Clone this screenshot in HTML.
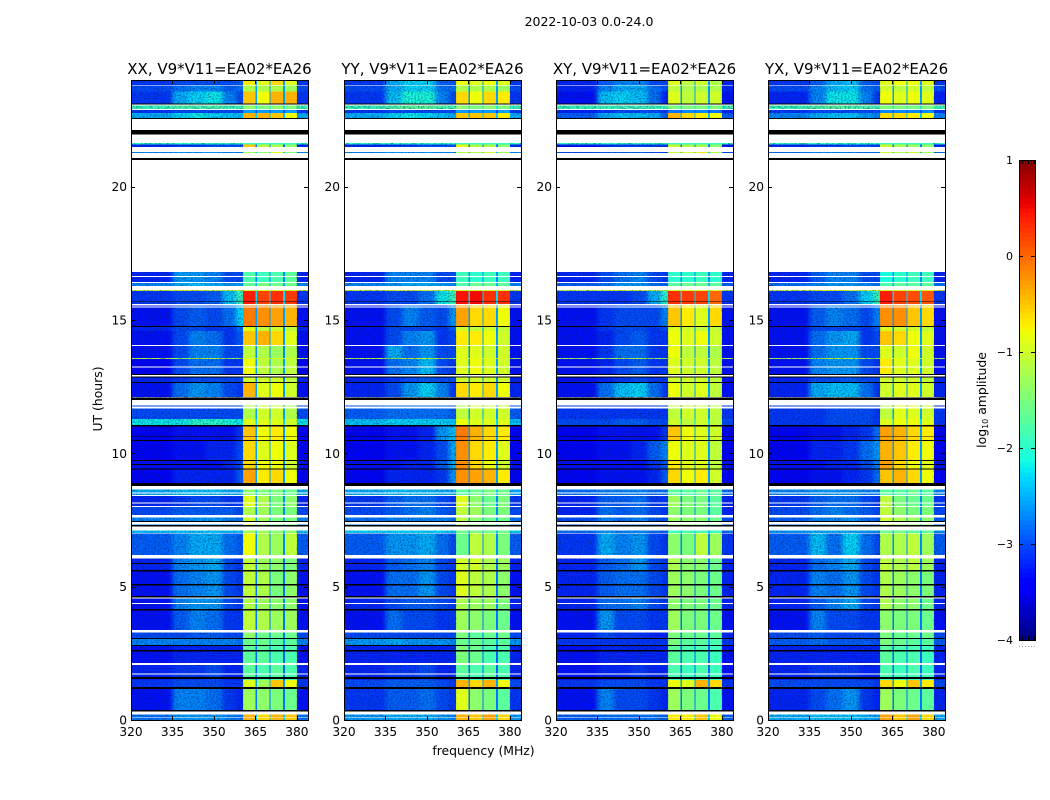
<!DOCTYPE html>
<html>
<head>
<meta charset="utf-8">
<title>2022-10-03 0.0-24.0</title>
<style>
html,body{margin:0;padding:0;background:#fff;width:1050px;height:800px;overflow:hidden}
svg{display:block}
text{font-family:"DejaVu Sans","Liberation Sans",sans-serif;fill:#000}
</style>
</head>
<body>
<svg id="figure" xmlns="http://www.w3.org/2000/svg" width="1050" height="800" viewBox="0 0 1050 800">
<defs id="defs">
<filter id="grain" x="0" y="0" width="100%" height="100%" color-interpolation-filters="sRGB">
<feTurbulence type="fractalNoise" baseFrequency="0.6" numOctaves="2" seed="4"/>
<feColorMatrix type="matrix" values="0 0 0 0 0  0 0 0 0 0.1  0 0 0 0 0.35  1.4 0 0 0 -0.58"/>
</filter>
<filter id="softBlur" x="-5%" y="0" width="110%" height="100%" color-interpolation-filters="sRGB">
<feGaussianBlur stdDeviation="2.5 0"/>
</filter>
</defs>
<text x="589" y="26" font-size="12.5" text-anchor="middle">2022-10-03 0.0-24.0</text>
<text x="483.5" y="755" font-size="12.4" text-anchor="middle">frequency (MHz)</text>
<text transform="translate(102,399) rotate(-90)" font-size="12.4" text-anchor="middle">UT (hours)</text>
<text transform="translate(986,400) rotate(-90)" font-size="12.4" text-anchor="middle">log<tspan font-size="8" dy="2">10</tspan><tspan dy="-2"> amplitude</tspan></text>
<g id="panels"></g>
<g id="colorbar"></g>
</svg>
<script>
// ---- chart data (hours, MHz, log10 amplitude) ----
const panelTitles = ["XX, V9*V11=EA02*EA26","YY, V9*V11=EA02*EA26","XY, V9*V11=EA02*EA26","YX, V9*V11=EA02*EA26"];
const freqTicks = [320,335,350,365,380];
const hourTicks = [0,5,10,15,20];
const colorTicks = [1,0,-1,-2,-3,-4];
const bandFrom = [320,335,341,347,353,358,360.5,365,365.5,370,370.5,375,375.6,380];
const bandTo = [335,341,347,353,358,360.5,365,365.5,370,370.5,375,375.6,380,384];
const bandColumn = [0,1,2,3,4,5,6,-1,7,-1,8,-1,9,0];
const rowStart = [23.79,23.57,23.1,22.875,22.76,22.575,21.59,21.49,21.25,16.39,16.125,16.09,15.6,14.775,14.59,14.06,13.575,13.54,12.975,12.64,12.11,11.29,11.06,10.46,9.75,9.41,8.87,8.4,7.99,7.69,7.275,6.99,6.19,5.625,4.61,4.125,3.3,3.04,2.775,2.14,1.5,1.24,0.375,0];
const rowEnd = [24,23.79,23.57,23.1,22.875,22.76,21.64,21.59,21.31,16.8,16.39,16.125,16.09,15.6,14.775,14.59,14.06,13.575,13.54,12.975,12.64,11.79,11.29,11.06,10.46,9.75,9.41,8.66,8.4,7.99,7.59,7.1,6.99,6.06,5.625,4.61,4.125,3.3,3.04,2.775,2.14,1.5,1.24,0.225];
const notchValues = [-2.6,-2.6,-2.6,-2.2,-3,-2.4,-2,-2.8,-2.4,-2.7,-2.5,-1.2,-2.3,-2.6,-2.7,-2.6,-2.7,-1.2,-2.6,-2.7,-2.6,-2.6,-2.3,-2.6,-2.6,-2.7,-2.6,-2.4,-2.7,-2.7,-2.5,-2.4,-2.7,-2.8,-2.8,-2.7,-2.8,-2.8,-2.6,-2.9,-2.9,-2.6,-2.8,-2.4];
const xxValues = [
[-3.1,-3,-3,-3,-3,-2.9,-0.7,-0.9,-0.6,-0.9],
[-3,-2.8,-2.7,-2.7,-2.9,-2.8,-1.2,-1.2,-1.2,-1.3],
[-3.1,-2.5,-2.3,-2.2,-2.7,-3,-0.5,-0.8,-0.4,-0.4],
[-1.9,-1.8,-1.8,-1.8,-1.9,-1.9,-1.4,-1.5,-1.4,-1.5],
[-3.1,-3,-3,-3,-3,-3,-2.6,-2.6,-2.6,-2.6],
[-2.5,-2.3,-2.2,-2.3,-2.4,-2.4,-0.4,-0.4,-0.5,-0.8],
[-2,-2,-2,-2,-2,-2,-1.9,-1.9,-1.9,-1.9],
[-3.2,-3.1,-3.1,-3,-3,-3,-0.5,-1.1,-1.2,-1.4],
[-2.7,-2.6,-2.6,-2.6,-2.7,-2.7,-1.3,-1.4,-0.9,-1.5],
[-3.2,-2.6,-2.6,-2.7,-3,-3,-1.8,-1.9,-1.8,-1.7],
[-2.7,-2.5,-2.4,-2.5,-2.6,-2.6,-1.7,-1.5,-1.6,-1.6],
[-1,-0.9,-0.9,-1,-1.1,-1,-1,-1,-1,-1],
[-3.1,-3,-3,-2.9,-2.4,-1.9,0.4,0.2,0.3,0.25],
[-3.3,-3,-2.9,-3,-2.8,-2.3,-0.1,-0.2,-0.3,-0.4],
[-3.2,-3,-3,-3.1,-3.1,-2.8,-0.9,-1.1,-1,-1.1],
[-3.3,-3,-2.7,-2.8,-3.1,-2.9,-0.5,-0.4,-0.6,-0.9],
[-3.3,-3,-2.7,-2.7,-3,-3,-1.1,-1.2,-1.3,-1.2],
[-1.2,-1.3,-1.1,-1.1,-1.3,-1.3,-1,-1,-1,-1],
[-3.4,-3,-2.8,-2.8,-3.1,-3.1,-0.8,-1.1,-1.2,-1.1],
[-3.2,-3.1,-3,-3,-3,-3,-1,-1,-1,-1.1],
[-3.3,-2.8,-2.6,-2.7,-3,-3.1,-0.4,-0.9,-0.8,-1],
[-3,-3,-3,-3,-3,-3,-1.2,-1,-1,-1.2],
[-2.2,-2.2,-2,-2,-2.1,-2.2,-0.9,-0.9,-0.9,-1],
[-3.4,-3.3,-3.3,-3.3,-3.3,-3.1,-0.5,-0.8,-0.7,-0.8],
[-3.4,-3.3,-3.3,-3.2,-3.2,-3,-0.6,-0.9,-0.8,-0.9],
[-3.3,-3.3,-3.3,-3.3,-3.2,-3,-0.6,-0.8,-0.8,-1],
[-3.4,-3.2,-3.2,-3.2,-3.2,-2.9,-0.3,-0.7,-0.6,-0.8],
[-2.5,-2.4,-2.4,-2.4,-2.5,-2.5,-1.4,-1.5,-1.5,-1.6],
[-3.2,-3.1,-3,-3,-3.1,-3.1,-0.9,-1.2,-1.5,-1.4],
[-3,-2.9,-2.9,-2.9,-2.9,-3,-1.2,-1.3,-1.5,-1.5],
[-2.7,-2.7,-2.6,-2.6,-2.7,-2.8,-1,-1.3,-1.5,-1.5],
[-2.4,-2.4,-2.4,-2.4,-2.4,-2.4,-1.3,-1.3,-1.4,-1.4],
[-2.9,-2.7,-2.5,-2.5,-2.8,-2.9,-0.8,-1.2,-1.3,-1.1],
[-3.2,-2.7,-2.6,-2.5,-3,-3.1,-1.1,-1.3,-1.4,-1.5],
[-3.3,-2.8,-2.7,-2.6,-3,-3.1,-1.1,-1.2,-1.5,-1.4],
[-3.3,-2.7,-2.6,-2.6,-3,-3.1,-1.2,-1.3,-1.4,-1.4],
[-3.3,-2.9,-2.7,-2.8,-3.1,-3.1,-1.1,-1.2,-1.3,-1.3],
[-3,-3,-2.9,-2.9,-3,-3,-1.4,-1.6,-1.6,-1.6],
[-2.7,-2.7,-2.7,-2.7,-2.7,-2.8,-1.6,-1.6,-1.7,-1.7],
[-3.3,-3.2,-3.2,-3.2,-3.2,-3.2,-1.7,-1.7,-1.8,-1.8],
[-3.2,-3.1,-3.1,-3,-3.2,-3.2,-1.7,-1.8,-1.7,-1.8],
[-3.1,-3,-3,-3,-3.1,-3.1,-0.9,-1.3,-0.5,-0.8],
[-3.3,-2.7,-2.7,-2.8,-3.1,-3.2,-1.3,-1.4,-1.5,-1.6],
[-2.8,-2.6,-2.6,-2.6,-2.7,-2.8,-0.4,-0.6,-0.4,-0.5]
];
const yyValues = [
[-3.1,-2.5,-2.3,-2.3,-2.9,-2.9,-0.8,-0.9,-0.8,-0.9],
[-3,-2.5,-2.3,-2.3,-2.8,-2.8,-1.2,-1.2,-1.2,-1.3],
[-3.1,-2.4,-2.1,-2.1,-2.7,-3,-0.6,-0.8,-0.6,-0.7],
[-1.9,-1.8,-1.7,-1.7,-1.8,-1.9,-1.4,-1.5,-1.4,-1.5],
[-3.1,-3,-3,-3,-3,-3,-2.6,-2.6,-2.6,-2.6],
[-2.5,-2.3,-2.2,-2.3,-2.4,-2.5,-0.5,-0.5,-0.5,-0.7],
[-2,-2,-2,-2,-2,-2,-1.9,-1.9,-1.9,-1.9],
[-3.2,-3.1,-3.1,-3,-3,-3,-0.8,-1.2,-1.2,-1.4],
[-2.7,-2.6,-2.6,-2.6,-2.7,-2.7,-1.1,-1.2,-1,-1.3],
[-3.2,-2.7,-2.7,-2.7,-3,-3,-1.9,-2,-1.9,-1.9],
[-2.7,-2.6,-2.5,-2.5,-2.6,-2.7,-1.8,-1.6,-1.6,-1.7],
[-1,-0.9,-0.9,-1,-1.1,-1,-1,-1,-1,-1],
[-3.1,-3,-3,-2.8,-2.2,-1.9,0.45,0.5,0.3,0.3],
[-3.3,-3,-2.7,-2.9,-3,-2.6,-0.3,-0.6,-0.6,-0.8],
[-3.3,-3,-3,-3,-3.1,-2.9,-1,-1.1,-1,-1.1],
[-3.3,-3,-2.7,-2.6,-3.1,-3,-0.7,-0.7,-0.8,-1],
[-3.3,-2.5,-2.8,-2.6,-3,-3,-0.9,-0.9,-1,-1],
[-1.2,-1.3,-1,-0.9,-1.3,-1.3,-0.9,-0.9,-0.9,-0.9],
[-3.3,-2.8,-2.7,-2.4,-3,-3.1,-0.9,-0.8,-0.9,-1],
[-3.2,-3.1,-3,-2.9,-3,-3,-1,-1,-1,-1],
[-3.2,-3,-2.6,-2.3,-2.7,-3.1,-0.6,-0.7,-0.6,-0.8],
[-2.9,-2.8,-2.8,-2.8,-2.8,-2.9,-1.1,-1,-1,-1],
[-2.4,-2.3,-2.3,-2.3,-2.3,-2.4,-0.8,-0.9,-0.9,-0.9],
[-3.4,-3.3,-3.3,-3.2,-2.6,-2.4,-0.1,-0.4,-0.6,-0.7],
[-3.4,-3.3,-3.3,-3.2,-3,-2.5,-0.2,-0.6,-0.7,-0.9],
[-3.3,-3.3,-3.2,-3.2,-2.9,-2.5,-0.2,-0.6,-0.8,-1],
[-3.4,-3.2,-3.2,-3.2,-3.1,-2.6,-0.2,-0.3,-0.4,-0.7],
[-2.5,-2.4,-2.4,-2.4,-2.5,-2.5,-1.7,-1.6,-1.5,-1.6],
[-3.1,-2.9,-2.8,-2.8,-3,-3.1,-0.9,-1.4,-1.6,-1.5],
[-3,-2.9,-2.8,-2.7,-2.9,-3,-1.1,-1.3,-1.5,-1.5],
[-2.8,-2.7,-2.7,-2.7,-2.7,-2.8,-1.1,-1.4,-1.6,-1.6],
[-2.3,-2.3,-2.3,-2.3,-2.3,-2.4,-1.6,-1.5,-1.6,-1.6],
[-2.9,-2.6,-2.6,-2.5,-2.8,-3,-1.6,-1.1,-1.2,-1.5],
[-3.2,-2.9,-2.8,-2.7,-3,-3.1,-1,-1,-1.2,-1.3],
[-3.3,-2.8,-2.8,-2.6,-3,-3.1,-0.9,-1.1,-1.2,-1.4],
[-3.2,-3,-2.9,-2.9,-3,-3.1,-1.2,-1.3,-1.3,-1.5],
[-3.3,-2.8,-3,-3,-3.1,-3.1,-1.3,-1.4,-1.5,-1.6],
[-3,-3,-3,-3,-3,-3,-1.5,-1.7,-1.6,-1.6],
[-2.6,-2.5,-2.6,-2.6,-2.6,-2.7,-1.6,-1.6,-1.7,-1.7],
[-3.2,-3.2,-3.2,-3.2,-3.2,-3.2,-1.5,-1.6,-1.8,-1.8],
[-3.2,-3.1,-3.1,-3,-3.2,-3.2,-1.7,-1.8,-1.7,-1.8],
[-3,-2.9,-2.9,-2.9,-3,-3.1,-0.4,-0.6,-0.4,-0.8],
[-3.1,-2.9,-2.9,-2.8,-3,-3.1,-0.9,-1.4,-1.5,-1.7],
[-2.6,-2.5,-2.5,-2.5,-2.6,-2.7,-0.4,-0.5,-0.3,-0.6]
];
const xyValues = [
[-3.2,-2.9,-2.7,-2.7,-3,-3,-0.9,-1.1,-1,-1.2],
[-3.2,-2.7,-2.5,-2.5,-2.8,-3,-1.1,-1.2,-1.2,-1.2],
[-3.3,-2.4,-2.3,-2.4,-2.8,-3.2,-0.9,-1.1,-1,-1],
[-1.9,-1.9,-1.9,-1.9,-1.9,-1.9,-1.5,-1.5,-1.5,-1.5],
[-3.2,-3.1,-3,-3,-3,-3.1,-2.8,-2.7,-2.7,-2.8],
[-2.9,-2.5,-2.4,-2.4,-2.5,-2.9,-0.4,-0.6,-0.7,-0.8],
[-2,-2,-2,-2,-2,-2,-1.9,-1.9,-1.9,-1.9],
[-3.3,-3.2,-3.1,-3.1,-3.1,-3.1,-1,-1.2,-1.2,-1.4],
[-3,-2.9,-2.9,-2.9,-3,-3,-1,-1,-0.7,-1.2],
[-3.2,-3,-2.8,-2.7,-3,-3.1,-2,-2,-1.9,-2],
[-2.9,-2.8,-2.6,-2.6,-2.8,-2.9,-1.7,-1.6,-1.6,-1.7],
[-1.1,-1,-0.9,-1,-1.1,-1.1,-1,-1,-1,-1],
[-3.1,-3.1,-3.1,-3,-2.5,-2,0.3,0.25,0.2,0],
[-3.3,-3.1,-3,-3,-3,-2.7,-0.5,-0.7,-0.9,-0.6],
[-3.3,-3.1,-3,-3,-3.1,-3,-0.9,-1,-1.1,-1.1],
[-3.3,-3.2,-3,-2.9,-3.1,-3.1,-0.8,-0.9,-0.8,-1],
[-3.3,-3.1,-2.8,-2.8,-3.1,-3.1,-0.8,-1.1,-1.1,-1.2],
[-1.3,-1.3,-1.1,-1.1,-1.3,-1.3,-1,-1,-1,-1.1],
[-3.3,-3.2,-3,-2.9,-3.1,-3.1,-0.9,-1,-1,-1.1],
[-3.3,-3.2,-3.1,-3,-3.1,-3.1,-1,-1,-1,-1.1],
[-3.3,-2.8,-2.4,-2.3,-2.8,-3.1,-0.8,-1,-0.9,-1.1],
[-3.1,-3.1,-3.1,-3.1,-3.1,-3.1,-1.1,-1,-1,-1.1],
[-3,-3,-2.9,-2.9,-3,-3,-1,-1.1,-1,-1.1],
[-3.4,-3.3,-3.3,-3.3,-3.3,-3.1,-0.5,-0.8,-0.9,-1],
[-3.4,-3.3,-3.3,-3.2,-2.9,-2.7,-0.8,-0.9,-0.9,-1.1],
[-3.3,-3.3,-3.3,-3.3,-3.1,-2.9,-0.7,-0.9,-0.9,-1.1],
[-3.4,-3.3,-3.3,-3.3,-3.2,-2.9,-0.6,-0.8,-0.7,-1],
[-2.8,-2.7,-2.7,-2.7,-2.8,-2.8,-1.7,-1.7,-1.6,-1.7],
[-3.2,-2.9,-2.9,-2.8,-3.1,-3.1,-1.3,-1.5,-1.5,-1.7],
[-3.2,-2.8,-2.9,-2.8,-3,-3.1,-1.4,-1.5,-1.5,-1.7],
[-3,-2.7,-2.8,-2.7,-2.9,-3,-1.3,-1.4,-1.4,-1.6],
[-2.8,-2.6,-2.7,-2.7,-2.8,-2.9,-1.9,-1.8,-1.8,-1.9],
[-3.1,-2.5,-2.7,-2.6,-3,-3.1,-1.4,-1.5,-1.1,-1.3],
[-3.2,-2.9,-2.8,-2.6,-3,-3.1,-1.2,-1.4,-1.4,-1.6],
[-3.2,-2.9,-2.8,-2.8,-3,-3.1,-1.3,-1.4,-1.5,-1.6],
[-3.2,-2.8,-2.8,-2.7,-3,-3.1,-1.4,-1.5,-1.5,-1.6],
[-3.3,-2.6,-3,-3,-3.1,-3.1,-1.3,-1.5,-1.5,-1.6],
[-3.2,-3,-3.1,-3.1,-3.2,-3.2,-1.5,-1.6,-1.6,-1.7],
[-3.1,-3.1,-3.1,-3.1,-3.1,-3.1,-1.5,-1.7,-1.7,-1.8],
[-3.3,-3.2,-3.2,-3.2,-3.2,-3.2,-1.7,-1.8,-1.8,-1.9],
[-3.3,-3.2,-3.2,-3.1,-3.2,-3.2,-1.8,-1.9,-1.8,-1.9],
[-3.1,-3,-3,-3,-3.1,-3.1,-0.8,-0.9,-0.4,-0.6],
[-3.3,-2.7,-3,-3,-3.1,-3.2,-1.3,-1.5,-1.6,-1.8],
[-2.9,-2.8,-2.8,-2.8,-2.8,-2.9,-0.7,-0.7,-0.5,-0.8]
];
const yxValues = [
[-3.1,-2.9,-2.5,-2.4,-2.9,-3,-0.9,-0.8,-0.8,-0.9],
[-3,-2.7,-2.4,-2.3,-2.8,-2.9,-1,-1.1,-1,-1.1],
[-3.2,-2.7,-2.2,-2.2,-2.7,-3.1,-0.8,-0.9,-0.8,-0.9],
[-1.9,-1.8,-1.7,-1.8,-1.8,-1.9,-1.5,-1.5,-1.5,-1.5],
[-3.1,-3,-3,-3,-3,-3,-2.7,-2.7,-2.7,-2.7],
[-2.7,-2.5,-2.4,-2.4,-2.6,-2.7,-0.6,-0.6,-0.7,-0.8],
[-2,-2,-2,-2,-2,-2,-1.9,-1.9,-1.9,-1.9],
[-3.2,-3.1,-3.1,-3,-3,-3.1,-1,-1.2,-1.3,-1.4],
[-2.8,-2.7,-2.7,-2.7,-2.8,-2.8,-1,-1.2,-1,-1.3],
[-3.2,-2.9,-2.7,-2.7,-3,-3,-2.1,-2,-1.9,-1.9],
[-2.8,-2.7,-2.6,-2.6,-2.7,-2.8,-1.8,-1.7,-1.7,-1.7],
[-1,-0.9,-0.9,-1,-1.1,-1,-1,-1,-1,-1],
[-3.1,-3,-3,-2.8,-2.3,-1.9,0.4,0.2,0.15,0.1],
[-3.3,-2.9,-2.7,-2.8,-3,-2.7,-0.2,-0.2,-0.5,-0.6],
[-3.3,-3,-3,-3,-3.1,-2.9,-0.9,-1,-1,-1.1],
[-3.3,-2.8,-2.6,-2.5,-3.1,-3,-0.5,-0.6,-0.8,-0.9],
[-3.3,-2.8,-2.6,-2.6,-3,-3,-0.9,-1,-0.8,-1],
[-1.3,-1.3,-1,-1,-1.3,-1.3,-0.9,-0.9,-0.9,-1],
[-3.3,-2.7,-2.6,-2.6,-3,-3.1,-0.7,-0.9,-0.9,-1],
[-3.2,-3,-3,-2.9,-3,-3,-1,-1,-1,-1.1],
[-3.2,-2.5,-2.4,-2.4,-2.8,-3.1,-1,-0.9,-0.9,-1],
[-3.1,-3.1,-3,-3,-3,-3.1,-1.1,-0.9,-0.9,-1],
[-3.1,-3.1,-3,-3,-3,-3.1,-0.9,-0.8,-0.8,-0.9],
[-3.4,-3.3,-3.3,-3.2,-3.1,-2.8,-0.3,-0.4,-0.6,-0.7],
[-3.4,-3.2,-3.2,-3.1,-2.8,-2.6,-0.4,-0.5,-0.7,-0.8],
[-3.3,-3.3,-3.2,-3.2,-3,-2.7,-0.3,-0.6,-0.8,-0.9],
[-3.4,-3.3,-3.3,-3.2,-3.1,-2.8,-0.5,-0.4,-0.6,-0.8],
[-2.7,-2.6,-2.6,-2.6,-2.7,-2.7,-1.7,-1.7,-1.6,-1.7],
[-3.1,-2.9,-2.8,-2.8,-3,-3.1,-1.1,-1.5,-1.6,-1.6],
[-3,-2.8,-2.7,-2.8,-2.9,-3,-1.1,-1.4,-1.5,-1.5],
[-2.9,-2.7,-2.7,-2.6,-2.8,-2.9,-1,-1.2,-1.3,-1.4],
[-2.6,-2.5,-2.5,-2.5,-2.6,-2.6,-1.6,-1.6,-1.7,-1.7],
[-2.9,-2.4,-2.8,-2.3,-2.8,-3,-1.2,-1.2,-1.1,-1.3],
[-3.2,-2.8,-2.7,-2.5,-3,-3.1,-1.1,-1.2,-1.1,-1.3],
[-3.2,-2.7,-2.8,-2.6,-3,-3.1,-1.2,-1.3,-1.4,-1.5],
[-3.2,-2.9,-2.7,-2.5,-3,-3.1,-1.2,-1.4,-1.4,-1.6],
[-3.3,-2.7,-3,-3,-3.1,-3.1,-1.4,-1.5,-1.5,-1.6],
[-3,-2.9,-3,-3,-3,-3,-1.5,-1.6,-1.6,-1.6],
[-2.9,-2.8,-2.9,-2.9,-2.9,-3,-1.5,-1.6,-1.7,-1.7],
[-3.2,-3.2,-3.2,-3.2,-3.2,-3.2,-1.7,-1.8,-1.8,-1.9],
[-3.2,-3.1,-3.1,-3.1,-3.2,-3.2,-1.8,-1.9,-1.8,-1.9],
[-3,-3,-3,-3,-3,-3.1,-0.6,-0.8,-0.5,-0.7],
[-3.2,-3,-2.8,-2.6,-3.1,-3.2,-1.3,-1.5,-1.6,-1.7],
[-2.5,-2.4,-2.4,-2.4,-2.5,-2.6,-0.3,-0.5,-0.3,-0.6]
];
const whiteStart = [23.79,23.04,22.875,21.64,21.3,16.8,16.61,16.39,16.13,15.55,15.46,14.03,13.21,12.88,11.79,11.69,8.65,8.49,8.4,8.11,7.98,7.59,7.38,7.34,7.1,6.99,6.06,4.56,4.35,3.29,2.07,1.71,0.21,0.1];
const whiteEnd = [23.82,23.08,22.91,22.53,21.49,21.26,16.65,16.43,16.28,15.6,15.5,14.06,13.25,12.93,12,11.75,8.78,8.53,8.44,8.15,8.03,7.69,7.43,7.38,7.25,7.02,6.19,4.6,4.39,3.38,2.13,1.75,0.31,0.12];
const blackStart = [23.09,22.53,21.95,21,15.69,14.74,12.93,12.84,12.64,12,11.01,10.61,10.46,9.71,9.56,9.4,8.78,7.43,7.25,5.85,5.56,5.04,4.6,4.11,3.04,2.78,2.56,1.53,1.16,0.31];
const blackEnd = [23.12,22.58,22.13,21.08,15.72,14.78,12.97,12.88,12.68,12.1,11.07,10.64,10.5,9.75,9.6,9.44,8.88,7.46,7.31,5.89,5.63,5.1,4.65,4.17,3.08,2.81,2.63,1.62,1.24,0.38];

// ---- layout ----
const SVGNS = "http://www.w3.org/2000/svg";
const panelValues = [xxValues,yyValues,xyValues,yxValues];
const panelLefts = [131,344,556,768];
const plotWidth = 177, plotTop = 80, plotBottom = 720;
const freqMin = 320, freqMax = 384, hourMin = 0, hourMax = 24;
const bandLow = 360.5, bandHigh = 380;
const barLeft = 1019, barWidth = 16, barTop = 160, barBottom = 640, logMin = -4, logMax = 1;

function xScale(left, f){ return left + (f - freqMin) / (freqMax - freqMin) * plotWidth; }
function yScale(h){ return plotBottom - (h - hourMin) / (hourMax - hourMin) * (plotBottom - plotTop); }
function barScale(v){ return barBottom - (v - logMin) / (logMax - logMin) * (barBottom - barTop); }
function ramp(t, pts){
  for (let i = 1; i < pts.length; i++) {
    if (t <= pts[i][0]) {
      const a = pts[i-1], b = pts[i];
      return a[1] + (b[1]-a[1]) * (t-a[0]) / (b[0]-a[0]);
    }
  }
  return pts[pts.length-1][1];
}
function jet(v){
  const t = Math.max(0, Math.min(1, (v - logMin) / (logMax - logMin)));
  const r = ramp(t, [[0,0],[0.35,0],[0.66,1],[0.89,1],[1,0.5]]);
  const g = ramp(t, [[0,0],[0.125,0],[0.375,1],[0.64,1],[0.91,0],[1,0]]);
  const b = ramp(t, [[0,0.5],[0.11,1],[0.34,1],[0.65,0],[1,0]]);
  return "rgb(" + Math.round(r*255) + "," + Math.round(g*255) + "," + Math.round(b*255) + ")";
}
function shape(parent, tag, attrs){
  const el = document.createElementNS(SVGNS, tag);
  for (const k in attrs) el.setAttribute(k, attrs[k]);
  parent.appendChild(el);
  return el;
}
const panelsRoot = document.getElementById("panels");
const defsRoot = document.getElementById("defs");

panelTitles.forEach(function(title, p){
  const left = panelLefts[p], values = panelValues[p], right = left + plotWidth;
  const g = shape(panelsRoot, "g", {});
  
  

  const clip = shape(defsRoot, "clipPath", {id:"plot-clip-" + p});
  shape(clip, "rect", {x:left, y:plotTop, width:plotWidth, height:plotBottom-plotTop});

  const heat = shape(g, "g", {"clip-path":"url(#plot-clip-" + p + ")"});
  
  
  const soft = shape(heat, "g", {filter:"url(#softBlur)"});
  
  
  const sharp = shape(heat, "g", {"shape-rendering":"crispEdges"});
  
  

  rowStart.forEach(function(_, r){
    const yTop = yScale(rowEnd[r]), yBot = yScale(rowStart[r]);
    bandFrom.forEach(function(_, b){
      const c = bandColumn[b];
      const v = c < 0 ? notchValues[r] : values[r][c];
      let x0 = xScale(left, bandFrom[b]), x1 = xScale(left, bandTo[b]);
      const blurred = bandTo[b] <= bandLow;
      if (b === 0) x0 -= 12;
      if (blurred && bandTo[b] === bandLow) x1 += 12;
      const cell = shape(blurred ? soft : sharp, "rect", {x:x0, y:yTop, width:x1-x0, height:yBot-yTop, fill:jet(v), "shape-rendering":"crispEdges"});
      
      
    });
  });

  const grainA = shape(heat, "rect", {x:left, y:plotTop, width:xScale(left, bandLow)-left, height:plotBottom-plotTop, filter:"url(#grain)"});
  
  
  const grainB = shape(heat, "rect", {x:xScale(left, bandHigh), y:plotTop, width:right-xScale(left, bandHigh), height:plotBottom-plotTop, filter:"url(#grain)"});
  
  

  const gaps = shape(g, "g", {"shape-rendering":"crispEdges"});
  
  
  whiteStart.forEach(function(_, i){
    const r = shape(gaps, "rect", {x:left, y:yScale(whiteEnd[i]), width:plotWidth, height:yScale(whiteStart[i])-yScale(whiteEnd[i]), fill:"#fff"});
    
    
  });
  blackStart.forEach(function(_, i){
    const r = shape(gaps, "rect", {x:left, y:yScale(blackEnd[i]), width:plotWidth, height:yScale(blackStart[i])-yScale(blackEnd[i]), fill:"#000"});
    
    
  });

  const frame = shape(g, "rect", {x:left+0.5, y:plotTop+0.5, width:plotWidth, height:plotBottom-plotTop, fill:"none", stroke:"#000", "stroke-width":1, "shape-rendering":"crispEdges"});
  
  

  const head = shape(g, "text", {x:left+plotWidth/2, y:74, "font-size":15, "text-anchor":"middle"});
  head.textContent = title;
  
  

  freqTicks.forEach(function(f){
    const x = Math.round(xScale(left, f)) + 0.5;
    const t1 = shape(g, "line", {x1:x, x2:x, y1:plotBottom, y2:plotBottom-4, stroke:"#000", "shape-rendering":"crispEdges"});
    
    
    const t2 = shape(g, "line", {x1:x, x2:x, y1:plotTop, y2:plotTop+4, stroke:"#000", "shape-rendering":"crispEdges"});
    
    
    const lab = shape(g, "text", {x:xScale(left, f), y:736, "font-size":12.2, "text-anchor":"middle"});
    lab.textContent = String(f);
    
    
  });
  hourTicks.forEach(function(h){
    const y = Math.round(yScale(h)) + 0.5;
    const t1 = shape(g, "line", {x1:left, x2:left+4, y1:y, y2:y, stroke:"#000", "shape-rendering":"crispEdges"});
    
    
    const t2 = shape(g, "line", {x1:right, x2:right-4, y1:y, y2:y, stroke:"#000", "shape-rendering":"crispEdges"});
    
    
    const lab = shape(g, "text", {x:left-4, y:yScale(h)+4.5, "font-size":12.2, "text-anchor":"end"});
    lab.textContent = String(h);
    
    
  });
});

// ---- colorbar ----
const barRoot = document.getElementById("colorbar");
const barStepCount = 100;
for (let i = 0; i < barStepCount; i++) {
  const v0 = logMin + (logMax - logMin) * i / barStepCount;
  const v1 = logMin + (logMax - logMin) * (i + 1) / barStepCount;
  const seg = shape(barRoot, "rect", {x:barLeft, y:barScale(v1), width:barWidth, height:barScale(v0)-barScale(v1)+(i ? 0.3 : 0), fill:jet((v0+v1)/2), "shape-rendering":"crispEdges"});
  
  
}
const barFrame = shape(barRoot, "rect", {x:barLeft+0.5, y:barTop+0.5, width:barWidth, height:barBottom-barTop, fill:"none", stroke:"#000", "shape-rendering":"crispEdges"});


colorTicks.forEach(function(v){
  const y = Math.round(barScale(v)) + 0.5;
  const t1 = shape(barRoot, "line", {x1:barLeft, x2:barLeft+4, y1:y, y2:y, stroke:"#000", "shape-rendering":"crispEdges"});
  
  
  const t2 = shape(barRoot, "line", {x1:barLeft+barWidth, x2:barLeft+barWidth-4, y1:y, y2:y, stroke:"#000", "shape-rendering":"crispEdges"});
  
  
  const lab = shape(barRoot, "text", {x:barLeft-6, y:barScale(v)+4, "font-size":11, "text-anchor":"end"});
  lab.textContent = String(v).replace("-", "\u2212");
  
  
});
for (let i = 0; i < 6; i++) {
  const x = barLeft + 0.5 + i * 3;
  const top = shape(barRoot, "line", {x1:x, x2:x, y1:barTop, y2:barTop+4, stroke:"#000", "shape-rendering":"crispEdges"});
  
  
  const bot = shape(barRoot, "line", {x1:x, x2:x, y1:barBottom, y2:barBottom-4, stroke:"#000", "shape-rendering":"crispEdges"});
  
  
  const dot = shape(barRoot, "rect", {x:x-0.5, y:646, width:1, height:1, fill:"#999"});
  
  
}
</script>
</body>
</html>
